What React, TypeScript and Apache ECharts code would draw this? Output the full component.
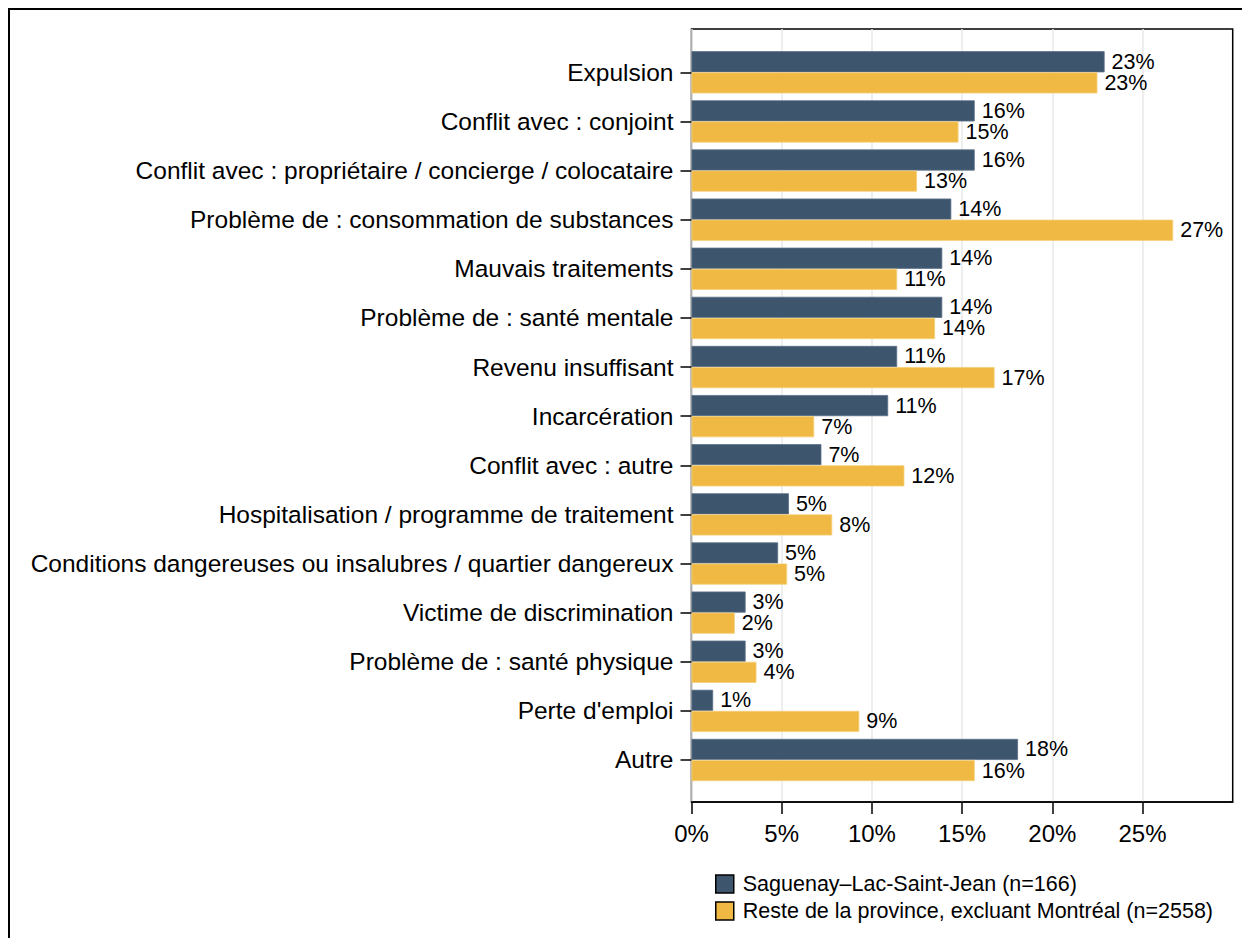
import React, { useEffect, useRef } from "react";
import * as echarts from "echarts";

const categories = [
  "Expulsion",
  "Conflit avec : conjoint",
  "Conflit avec : propriétaire / concierge / colocataire",
  "Problème de : consommation de substances",
  "Mauvais traitements",
  "Problème de : santé mentale",
  "Revenu insuffisant",
  "Incarcération",
  "Conflit avec : autre",
  "Hospitalisation / programme de traitement",
  "Conditions dangereuses ou insalubres / quartier dangereux",
  "Victime de discrimination",
  "Problème de : santé physique",
  "Perte d'emploi",
  "Autre",
];

const saguenay = [22.9, 15.7, 15.7, 14.4, 13.9, 13.9, 11.4, 10.9, 7.2, 5.4, 4.8, 3.0, 3.0, 1.2, 18.1];
const reste = [22.5, 14.8, 12.5, 26.7, 11.4, 13.5, 16.8, 6.8, 11.8, 7.8, 5.3, 2.4, 3.6, 9.3, 15.7];

const seriesNames = [
  "Saguenay–Lac-Saint-Jean (n=166)",
  "Reste de la province, excluant Montréal (n=2558)",
];
const xTicks = [0, 5, 10, 15, 20, 25];

const FONT = "Liberation Sans, Arial, sans-serif";
const DARK = "#3d566e";
const YELLOW = "#f0b944";

export default function App() {
  const ref = useRef<HTMLDivElement>(null);
  useEffect(() => {
    if (!ref.current) return;
    const chart = echarts.init(ref.current, null, { renderer: "svg" });
    const label = {
      show: true,
      position: "right",
      distance: 7,
      color: "#000",
      fontSize: 21.5,
      fontFamily: FONT,
      formatter: (p: any) => Math.round(p.value) + "%",
    };
    chart.setOption({
      animation: false,
      textStyle: { fontFamily: FONT },
      graphic: [
        {
          type: "rect",
          shape: { x: 1, y: 1, width: 1400, height: 1200 },
          style: { fill: "none", stroke: "#000", lineWidth: 2 },
          silent: true,
        },
      ],
      legend: {
        orient: "vertical",
        left: 707,
        top: 865,
        padding: 0,
        itemWidth: 18,
        itemHeight: 18,
        itemGap: 5,
        icon: "rect",
        data: seriesNames,
        textStyle: { fontSize: 21.5, lineHeight: 18, color: "#000", fontFamily: FONT, padding: [0, 0, 0, 4] },
        itemStyle: { borderColor: "#000", borderWidth: 1.5 },
      },
      grid: [
        { left: 683.5, right: 17.3, top: 21, bottom: 136, show: true, borderColor: "#000", borderWidth: 1.5, backgroundColor: "transparent" },
        { left: 683.5, right: 17.3, top: 39.75, bottom: 153.45 },
      ],
      xAxis: [
        {
          type: "value",
          gridIndex: 0,
          min: 0,
          max: 30,
          interval: 5,
          axisLine: { show: true, lineStyle: { color: "#000", width: 1.5 } },
          axisTick: { show: true, length: 12, customValues: xTicks, lineStyle: { color: "#000", width: 1.5 } },
          axisLabel: { customValues: xTicks, formatter: (v: number) => v + "%", fontSize: 24, color: "#000", margin: 19, fontFamily: FONT },
          splitLine: { show: true, lineStyle: { color: "#e9e9e9", width: 1.5 } },
        },
        {
          type: "value",
          gridIndex: 1,
          min: 0,
          max: 30,
          show: false,
        },
      ],
      yAxis: [
        { type: "value", gridIndex: 0, show: false },
        {
          type: "category",
          gridIndex: 1,
          data: categories,
          inverse: true,
          axisLine: { show: false },
          axisTick: { show: true, alignWithLabel: true, length: 11, lineStyle: { color: "#000", width: 1.5 } },
          axisLabel: { fontSize: 24.5, color: "#000", margin: 18, fontFamily: FONT },
          splitLine: { show: false },
        },
      ],
      series: [
        {
          name: seriesNames[0],
          type: "bar",
          xAxisIndex: 1,
          yAxisIndex: 1,
          data: saguenay,
          barGap: "0%",
          barCategoryGap: "14%",
          itemStyle: { color: DARK, borderColor: "#5a7088", borderWidth: 0.8 },
          label,
        },
        {
          name: seriesNames[1],
          type: "bar",
          xAxisIndex: 1,
          yAxisIndex: 1,
          data: reste,
          barGap: "0%",
          barCategoryGap: "14%",
          itemStyle: { color: YELLOW, borderColor: "#f5cf78", borderWidth: 0.8 },
          label,
        },
      ],
    });
    return () => chart.dispose();
  }, []);
  return <div ref={ref} style={{ width: 1242, height: 930 }} />;
}
